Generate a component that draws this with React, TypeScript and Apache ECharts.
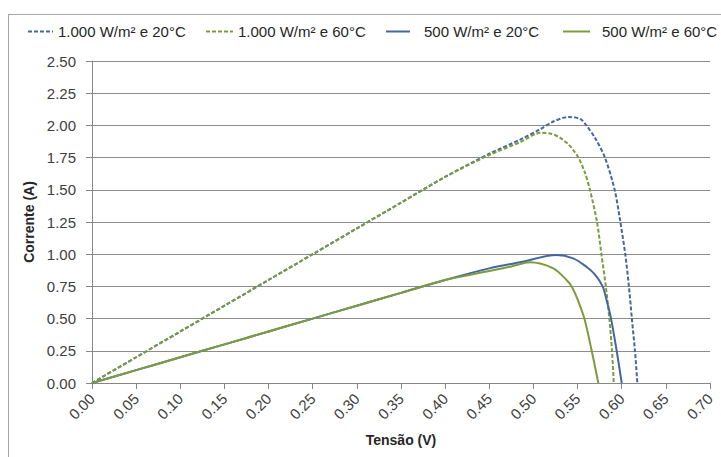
import React, { useEffect, useRef } from "react";
import * as echarts from "echarts";

const seriesNames = [
  "1.000 W/m² e 20°C",
  "1.000 W/m² e 60°C",
  "500 W/m² e 20°C",
  "500 W/m² e 60°C",
];

const v1000_20 = [0, 0.05, 0.1, 0.15, 0.2, 0.25, 0.3, 0.35, 0.4, 0.45, 0.485, 0.5075, 0.5225, 0.54, 0.553, 0.56, 0.57, 0.581, 0.592, 0.598, 0.604, 0.608, 0.6115, 0.615, 0.6177];
const i1000_20 = [0, 0.2, 0.4, 0.6, 0.8, 1.0, 1.2, 1.4, 1.6, 1.78, 1.89, 1.97, 2.03, 2.065, 2.05, 2.0, 1.9, 1.75, 1.5, 1.27, 1.0, 0.76, 0.5, 0.25, 0];

const v1000_60 = [0, 0.05, 0.1, 0.15, 0.2, 0.25, 0.3, 0.35, 0.4, 0.45, 0.485, 0.509, 0.52, 0.53, 0.54, 0.546, 0.551, 0.558, 0.564, 0.572, 0.577, 0.582, 0.586, 0.589, 0.591];
const i1000_60 = [0, 0.2, 0.4, 0.6, 0.8, 1.0, 1.2, 1.4, 1.6, 1.77, 1.87, 1.943, 1.935, 1.905, 1.85, 1.8, 1.75, 1.64, 1.5, 1.25, 1.0, 0.75, 0.5, 0.25, 0];

const v500_20 = [0, 0.05, 0.1, 0.15, 0.2, 0.25, 0.3, 0.35, 0.4, 0.45, 0.485, 0.526, 0.545, 0.56, 0.57, 0.5784, 0.583, 0.5879, 0.5943, 0.6];
const i500_20 = [0, 0.1, 0.2, 0.3, 0.4, 0.5, 0.6, 0.7, 0.8, 0.89, 0.937, 0.994, 0.968, 0.903, 0.84, 0.75, 0.64, 0.5, 0.25, 0];

const v500_60 = [0, 0.05, 0.1, 0.15, 0.2, 0.25, 0.3, 0.35, 0.4, 0.45, 0.475, 0.496, 0.5225, 0.5375, 0.5433, 0.55, 0.5577, 0.566, 0.5735];
const i500_60 = [0, 0.1, 0.2, 0.3, 0.4, 0.5, 0.6, 0.7, 0.8, 0.87, 0.905, 0.937, 0.89, 0.8, 0.75, 0.65, 0.5, 0.25, 0];

const BLUE = "#44679f";
const GREEN = "#7b9c3e";
const FONT = "Liberation Sans";

function pairs(v: number[], i: number[]) {
  return v.map((x, k) => [x, i[k]]);
}

export default function App() {
  const ref = useRef<HTMLDivElement>(null);
  useEffect(() => {
    if (!ref.current) return;
    const chart = echarts.init(ref.current, undefined, { renderer: "svg" });
    const legendText = { fontFamily: FONT, fontSize: 15, color: "#262626" };
    const legendBase = {
      top: 24,
      padding: 0,
      itemHeight: 12,
      itemStyle: { opacity: 0, borderWidth: 0 },
      textStyle: legendText,
      selectedMode: false,
    };
    const mk = (name: string, v: number[], i: number[], color: string, dashed: boolean) => ({
      name,
      type: "line",
      data: pairs(v, i),
      smooth: 0.3,
      symbol: "none",
      lineStyle: { color, width: 2, type: dashed ? [4, 2] : "solid" },
      itemStyle: { color },
    });
    chart.setOption({
      animation: false,
      textStyle: { fontFamily: FONT },
      graphic: [
        { type: "line", shape: { x1: 8, y1: 14.5, x2: 721, y2: 14.5 }, style: { stroke: "#a6a6a6", lineWidth: 1 } },
        { type: "line", shape: { x1: 8.5, y1: 14, x2: 8.5, y2: 457 }, style: { stroke: "#a6a6a6", lineWidth: 1 } },
      ],
      legend: [
        { ...legendBase, data: [seriesNames[0]], left: 27, itemWidth: 25 },
        { ...legendBase, data: [seriesNames[1]], left: 205, itemWidth: 27 },
        { ...legendBase, data: [seriesNames[2]], left: 385, itemWidth: 24, textStyle: { ...legendText, padding: [0, 0, 0, 9] } },
        { ...legendBase, data: [seriesNames[3]], left: 562, itemWidth: 27, textStyle: { ...legendText, padding: [0, 0, 0, 7] } },
      ],
      grid: { left: 92, right: 11, top: 61, bottom: 74 },
      xAxis: {
        type: "value",
        min: 0,
        max: 0.7,
        interval: 0.05,
        name: "Tensão (V)",
        nameLocation: "middle",
        nameGap: 50,
        nameTextStyle: { fontFamily: FONT, fontSize: 14, fontWeight: "bold", color: "#262626" },
        axisLine: { show: true, lineStyle: { color: "#888", width: 1 } },
        axisTick: { show: true, length: 6, lineStyle: { color: "#888" } },
        splitLine: { show: false },
        axisLabel: {
          rotate: 45,
          margin: 13,
          fontFamily: FONT,
          fontSize: 15,
          color: "#404040",
          formatter: (val: number) => val.toFixed(2),
        },
      },
      yAxis: {
        type: "value",
        min: 0,
        max: 2.5,
        interval: 0.25,
        name: "Corrente (A)",
        nameLocation: "middle",
        nameGap: 54,
        nameTextStyle: { fontFamily: FONT, fontSize: 14, fontWeight: "bold", color: "#262626" },
        axisLine: { show: true, lineStyle: { color: "#888", width: 1 } },
        axisTick: { show: true, length: 6, lineStyle: { color: "#888" } },
        splitLine: { show: true, lineStyle: { color: "#8c8c8c", width: 1 } },
        axisLabel: {
          margin: 16,
          fontFamily: FONT,
          fontSize: 15,
          color: "#404040",
          formatter: (val: number) => val.toFixed(2),
        },
      },
      series: [
        mk(seriesNames[0], v1000_20, i1000_20, BLUE, true),
        mk(seriesNames[1], v1000_60, i1000_60, GREEN, true),
        mk(seriesNames[2], v500_20, i500_20, BLUE, false),
        mk(seriesNames[3], v500_60, i500_60, GREEN, false),
      ],
    });
    return () => chart.dispose();
  }, []);
  return (
    <div
      ref={ref}
      style={{ position: "fixed", left: 0, top: 0, width: 721, height: 457, background: "#fff" }}
    />
  );
}
